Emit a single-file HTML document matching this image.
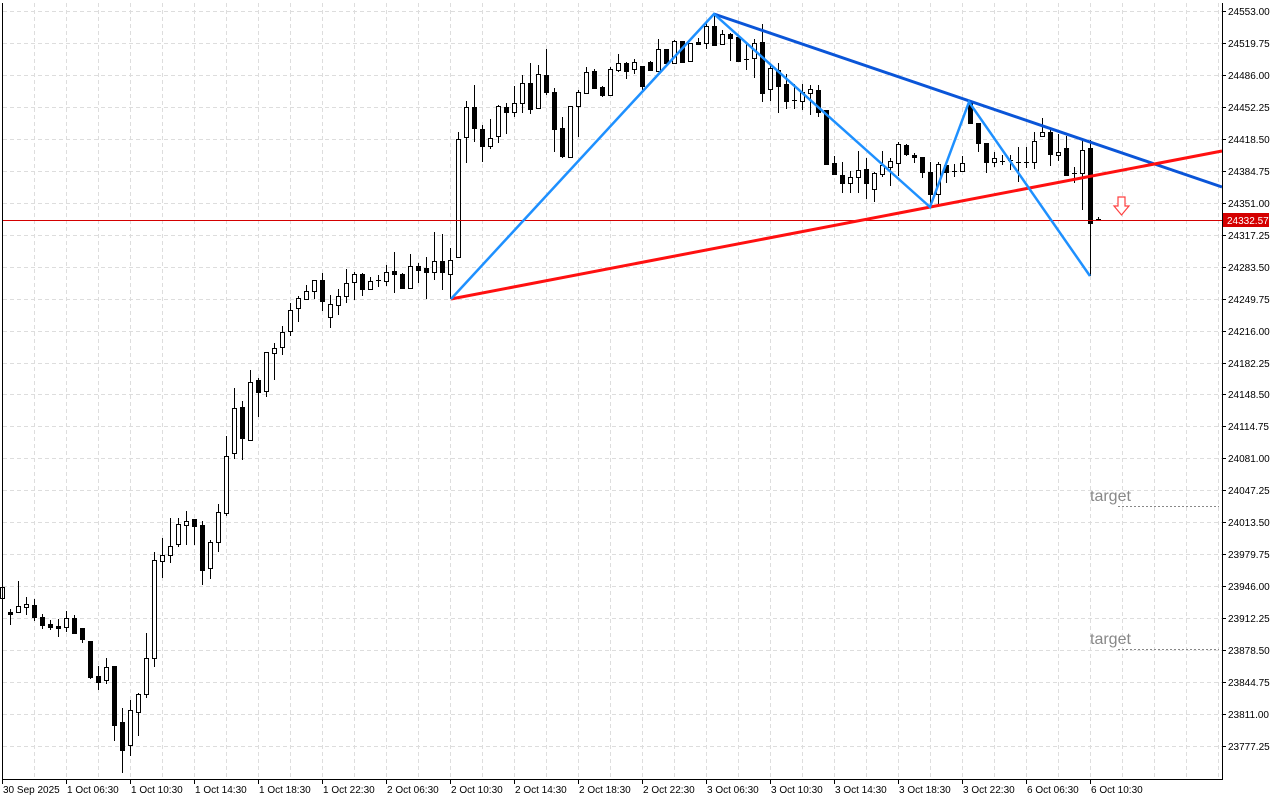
<!DOCTYPE html>
<html><head><meta charset="utf-8"><style>
html,body{margin:0;padding:0;background:#fff;width:1280px;height:800px;overflow:hidden}
svg text{font-family:"Liberation Sans",sans-serif;font-size:10px;fill:#000}
</style></head><body>
<svg id="c" width="1280" height="800" xmlns="http://www.w3.org/2000/svg"></svg>
<script>
const s=document.getElementById('c');let h='';
for(let x=34;x<1222;x+=32)h+=`<line x1="${x}.5" y1="3" x2="${x}.5" y2="779" stroke="#ddd" stroke-dasharray="4,3"/>`;
const labs=["24553.00","24519.75","24486.00","24452.25","24418.50","24384.75","24351.00","24317.25","24283.50","24249.75","24216.00","24182.25","24148.50","24114.75","24081.00","24047.25","24013.50","23979.75","23946.00","23912.25","23878.50","23844.75","23811.00","23777.25"];
labs.forEach((l,i)=>{const y=Math.round(11+i*(735/23));
h+=`<line x1="3" y1="${y}.5" x2="1222" y2="${y}.5" stroke="#ddd" stroke-dasharray="4,3"/>`;
h+=`<line x1="1222" y1="${y}.5" x2="1226" y2="${y}.5" stroke="#000"/><text x="1228" y="${y+4}">${l}</text>`;});
const tl=["30 Sep 2025","1 Oct 06:30","1 Oct 10:30","1 Oct 14:30","1 Oct 18:30","1 Oct 22:30","2 Oct 06:30","2 Oct 10:30","2 Oct 14:30","2 Oct 18:30","2 Oct 22:30","3 Oct 06:30","3 Oct 10:30","3 Oct 14:30","3 Oct 18:30","3 Oct 22:30","6 Oct 06:30","6 Oct 10:30"];
tl.forEach((t,i)=>{const x=i==0?2:2+64*i;h+=`<line x1="${x}.5" y1="779" x2="${x}.5" y2="784" stroke="#000"/><text x="${x+1}" y="793">${t}</text>`;});
const C=[
[2,587,598,583,602,1],[10,612,614,609,625,0],[18,606,612,581,612,1],[26,604,607,597,615,1],[34,605,617,599,621,0],[42,617,625,614,629,0],[50,624,627,620,630,0],[58,626,628,619,637,0],[66,618,627,611,632,1],[74,618,633,615,634,0],[82,628,639,628,643,0],[90,641,677,641,679,0],[98,676,682,666,690,0],[106,667,680,658,684,1],[114,666,725,666,741,0],[122,722,750,708,773,0],[130,710,745,700,756,1],[138,694,712,693,736,1],[146,658,694,633,698,1],[154,560,658,552,667,1],[162,555,561,538,578,1],[170,546,555,518,563,1],[178,524,544,518,547,1],[186,521,525,511,545,1],[194,519,526,519,545,0],[202,525,570,521,585,0],[210,542,568,540,579,1],[218,512,542,504,552,1],
[226,456,513,436,516,1],[234,408,453,388,459,1],[242,407,438,401,460,0],[250,382,440,370,441,1],[258,380,392,378,417,0],[266,352,391,352,397,1],[274,348,353,343,380,1],[282,332,347,326,355,1],[290,310,331,303,336,1],[298,298,308,296,322,1],[306,291,299,285,300,1],[314,280,291,280,299,1],[322,280,301,273,311,0],[330,304,317,295,328,1],[338,296,305,289,315,1],[346,283,296,269,303,1],[354,274,282,272,300,1],[362,274,289,273,296,0],[370,281,289,277,290,1],[378,280,280,275,287,0],[386,272,281,265,286,1],[394,271,274,252,293,0],[402,274,288,273,289,0],[410,266,288,254,289,1],[418,266,270,263,283,0],[426,268,272,257,299,0],[434,261,272,232,280,1],[442,261,272,234,290,0],[450,260,274,248,299,1],
[458,139,257,132,257,1],[466,107,137,101,163,1],[474,107,128,85,142,0],[482,129,146,125,162,0],[490,138,146,119,149,1],[498,106,136,105,143,1],[506,107,112,103,134,0],[514,103,112,86,117,1],[522,83,103,75,113,1],[530,83,109,63,114,0],[538,74,108,65,108,1],[546,75,92,49,95,0],[554,92,129,88,152,0],[562,128,156,117,158,0],[570,106,157,106,158,1],[578,92,106,90,137,1],[586,72,93,67,93,1],[594,71,88,69,88,0],[602,87,95,86,97,0],[610,69,95,67,96,1],[618,63,70,54,72,1],[626,63,71,62,79,0],[634,62,69,59,74,1],[642,66,86,66,90,0],[650,62,70,61,71,0],[658,49,71,39,71,1],[666,49,63,49,65,0],[674,41,63,40,63,1],[682,41,62,41,63,0],[690,43,61,43,61,1],[698,42,44,38,45,0],[706,26,43,23,49,1],[714,26,45,15,46,0],[722,34,44,30,44,1],[730,34,38,33,61,0],[738,37,61,35,62,0],[746,59,59,43,70,0],[754,43,58,39,78,1],[762,42,93,24,102,0],[770,68,89,65,101,1],[778,70,86,63,113,0],[786,84,101,74,109,0],[794,100,100,84,109,0],[802,92,101,84,110,1],[810,89,93,85,115,1],[818,90,112,85,117,0],[826,110,164,110,165,0],[834,163,174,156,174,0],[842,175,183,162,193,0],[850,177,183,171,193,1],[858,170,177,151,193,1],[866,169,183,158,199,0],[874,173,189,172,202,1],[882,165,174,151,177,1],[890,161,167,158,186,1],[898,144,163,142,176,1],[906,145,154,144,156,0],[914,155,157,153,163,0],[922,157,172,157,178,0],[930,172,194,162,207,0],[938,164,194,162,205,1],[946,165,172,163,183,0],[954,171,171,164,177,0],[962,163,171,156,172,1],[970,103,123,102,123,0],[978,123,143,123,152,0],[986,143,162,143,173,0],[994,158,162,152,167,1],[1002,161,161,155,165,0],[1010,160,160,155,170,0],[1018,162,162,147,182,0],[1026,162,162,147,168,0],[1034,141,162,132,169,1],[1042,132,136,118,136,1],[1050,132,154,128,166,0],[1058,152,155,134,161,1],[1066,148,175,136,176,0],[1074,173,173,167,183,0],[1082,150,173,139,210,1],[1090,148,223,140,276,0],[1098,219,219,217,220,0]];
C.forEach(c=>{const [x,t,b,wt,wb,w]=c;
h+=`<line x1="${x}.5" y1="${wt}" x2="${x}.5" y2="${wb}" stroke="#000"/>`;
if(b-t<1)h+=`<line x1="${x-2}" y1="${t}.5" x2="${x+3}" y2="${t}.5" stroke="#000"/>`;
else if(w)h+=`<rect x="${x-1.5}" y="${t}.5" width="4" height="${b-t}" fill="#fff" stroke="#000"/>`;
else h+=`<rect x="${x-2}" y="${t}" width="5" height="${b-t+1}" fill="#000"/>`;});
h+=`<line x1="3" y1="220.5" x2="1222" y2="220.5" stroke="#d40000"/>`;
h+=`<line x1="714" y1="14" x2="1222" y2="187" stroke="#0a55d8" stroke-width="3"/>`;
h+=`<line x1="451" y1="299" x2="1222" y2="151" stroke="#ff1010" stroke-width="3"/>`;
h+=`<polyline points="451,299 714,14 930,207 969,102 1090,276" fill="none" stroke="#1e90ff" stroke-width="2.5"/>`;
h+=`<path d="M1118,197 h7 v9 h4 l-7.5,9 l-7.5,-9 h4 z" fill="#fff" stroke="#ff4040" stroke-width="1.2"/>`;
h+=`<text x="1090" y="501" style="font-size:16px;fill:#888">target</text><line x1="1118" y1="506.5" x2="1219" y2="506.5" stroke="#888" stroke-dasharray="2,2"/>`;
h+=`<text x="1090" y="644" style="font-size:16px;fill:#888">target</text><line x1="1118" y1="649.5" x2="1219" y2="649.5" stroke="#888" stroke-dasharray="2,2"/>`;
h+=`<path d="M2.5,3 V779.5 H1222.5 V3" fill="none" stroke="#000"/>`;
h+=`<rect x="1223" y="213" width="46" height="14" fill="#d40000"/><text x="1227" y="224" style="fill:#fff">24332.57</text>`;
s.innerHTML=h;
</script>
</body></html>
